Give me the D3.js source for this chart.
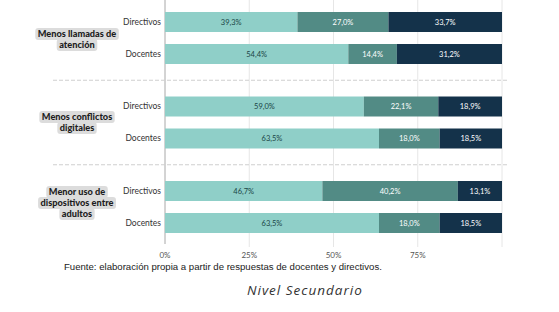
<!DOCTYPE html>
<html><head><meta charset="utf-8">
<script src="https://cdn.jsdelivr.net/npm/d3@7"></script>
<style>
html,body{margin:0;padding:0;background:#fff;}
svg{display:block;}
</style></head>
<body>
<svg id="c" width="559" height="312"></svg>
<script>
const groups = [["Menos llamadas de","atención"],["Menos conflictos","digitales"],["Menor uso de","dispositivos entre","adultos"]];
const roles = ["Directivos","Docentes"];
const seriesNames = ["s1","s2","s3"];
const values = [
  [[39.3,27.0,33.7],[54.4,14.4,31.2]],
  [[59.0,22.1,18.9],[63.5,18.0,18.5]],
  [[46.7,40.2,13.1],[63.5,18.0,18.5]]
];
const ticks = [0,25,50,75];
const tickLabels = ["0%","25%","50%","75%"];
const source = "Fuente: elaboración propia a partir de respuestas de docentes y directivos.";
const subtitle = "Nivel Secundario";

const colors = ["#8fcfc8","#528b85","#14324a"];
const textColors = ["#1a4545","#ffffff","#ffffff"];
const labelShift = [1.5, 0, -4];

const svg = d3.select("#c");
const x = d3.scaleLinear().domain([0,100]).range([165,502]);
const gy = d3.scaleBand().domain(d3.range(groups.length)).range([-4.25,249.25]).padding(0);
const iy = d3.scaleBand().domain(roles).range([0,gy.bandwidth()]).paddingInner(0.375).paddingOuter(0.508);

// gridlines
svg.append("g").selectAll("line").data([25,50,75,100]).join("line")
  .attr("x1",d=>x(d)).attr("x2",d=>x(d)).attr("y1",0).attr("y2",247)
  .attr("stroke","#e6e6e6").attr("stroke-width",1);
svg.append("line").attr("x1",x(0)).attr("x2",x(0)).attr("y1",0).attr("y2",244)
  .attr("stroke","#a8a8a8").attr("stroke-width",1);

// separators
svg.append("g").selectAll("line").data([1,2]).join("line")
  .attr("x1",53).attr("x2",507).attr("y1",d=>gy(d)).attr("y2",d=>gy(d))
  .attr("stroke","#cfcfcf").attr("stroke-width",1).attr("stroke-dasharray","4,2");

const font = "Lato, 'Open Sans', sans-serif";

groups.forEach((g,gi)=>{
  const G = svg.append("g").attr("transform",`translate(0,${gy(gi)})`);
  roles.forEach((r,ri)=>{
    const vals = values[gi][ri];
    let acc = 0;
    const segs = vals.map((v,si)=>{const s={x0:acc,x1:acc+v,v,si};acc+=v;return s;});
    const y0 = iy(r), h = iy.bandwidth();
    G.selectAll(null).data(segs).join("rect")
      .attr("x",d=>x(d.x0)).attr("width",d=>x(d.x1)-x(d.x0))
      .attr("y",y0).attr("height",h).attr("fill",d=>colors[d.si]);
    G.selectAll(null).data(segs).join("text")
      .attr("x",d=>(x(d.x0)+x(d.x1))/2).attr("y",y0+h/2).attr("dy","0.35em")
      .attr("text-anchor","middle").attr("font-family",font).attr("font-size",7.5)
      .attr("fill",d=>textColors[d.si])
      .text(d=>d.v.toFixed(1).replace(".",",")+"%");
    G.append("text").attr("x",161).attr("y",y0+h/2).attr("dy","0.35em")
      .attr("text-anchor","end").attr("font-family",font).attr("font-size",8.5)
      .attr("fill","#333").text(r);
  });
  // category label
  const n = g.length, lh = 11;
  const cy = gy.bandwidth()/2 + labelShift[gi];
  g.forEach((line,li)=>{
    const ty = cy + (li-(n-1)/2)*lh;
    const t = G.append("text").attr("x",77).attr("y",ty).attr("dy","0.35em")
      .attr("text-anchor","middle").attr("font-family",font).attr("font-weight",900)
      .attr("font-size",9.2).attr("fill","#1e1e1e").text(line);
    const bb = t.node().getBBox();
    G.insert("rect","text").attr("x",bb.x-2.5).attr("y",ty-6).attr("width",bb.width+5).attr("height",12)
      .attr("rx",3).attr("fill","#dcdcdc");
  });
});

// axis tick labels
svg.append("g").selectAll("text").data(ticks).join("text")
  .attr("x",d=>x(d)).attr("y",258).attr("text-anchor","middle")
  .attr("font-family",font).attr("font-size",8).attr("fill","#555")
  .text((d,i)=>tickLabels[i]);

svg.append("text").attr("x",64).attr("y",270).attr("font-family","'Liberation Sans', Arial, sans-serif")
  .attr("font-size",9.6).attr("fill","#222").text(source);
svg.append("text").attr("x",247).attr("y",295).attr("font-family","'Open Sans', sans-serif")
  .attr("font-style","italic").attr("font-size",13.5).attr("letter-spacing",1).attr("fill","#333").text(subtitle);
</script>
</body></html>
